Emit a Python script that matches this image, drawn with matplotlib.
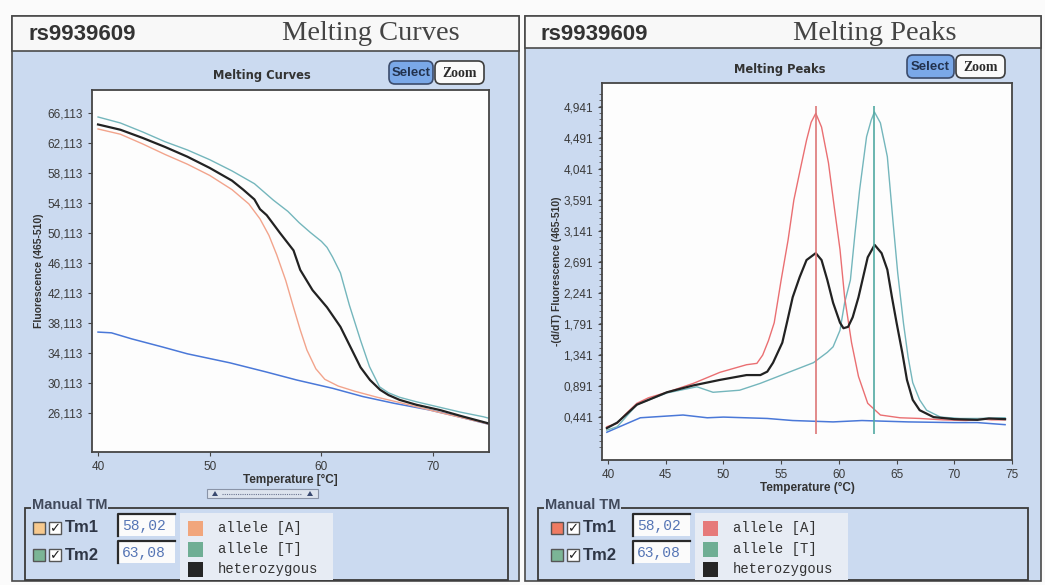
import numpy as np
import matplotlib
matplotlib.use("Agg")
import matplotlib.pyplot as plt
from matplotlib.patches import Rectangle, FancyBboxPatch, Polygon
from matplotlib.lines import Line2D
from matplotlib.transforms import Affine2D

# ---- data ----
# left: melting curves, fluorescence vs temperature
curve_T_temp = [40, 42, 44, 46, 48, 50, 52, 54, 55.7, 57, 58, 59, 60, 60.5, 61, 61.7,
                62.5, 63.5, 64.3, 65.2, 66, 67, 68.5, 70.5, 72.5, 74.5, 75]
curve_T = [65.6, 64.8, 63.6, 62.3, 61.2, 59.9, 58.4, 56.7, 54.5, 53.0, 51.5, 50.2, 49.0,
           48.2, 46.9, 44.8, 40.5, 35.8, 32.3, 29.6, 28.8, 28.2, 27.6, 26.9, 26.2, 25.6, 25.4]

curve_het_temp = [40, 42, 44, 46, 48, 50, 52, 53, 54, 54.5, 55.1, 56.3, 57.5, 58.1, 59.2,
                  60.5, 61.7, 62.6, 63.5, 64.35, 65.25, 66, 67, 68.5, 70.6, 72.5, 74.5, 75]
curve_het = [64.6, 63.9, 62.8, 61.6, 60.3, 58.8, 57.1, 55.9, 54.6, 53.3, 52.5, 50.1, 47.8,
             45.2, 42.5, 40.2, 37.6, 34.9, 32.2, 30.5, 29.2, 28.5, 27.85, 27.2, 26.5, 25.7,
             24.9, 24.7]

curve_A_temp = [40, 42, 44, 46, 48, 50, 52, 53.5, 54.5, 55.3, 56, 56.8, 57.5, 58.1, 58.7,
                59.5, 60.3, 61.5, 63, 65, 67, 70.5, 72.5, 74.5, 75]
curve_A = [64.0, 63.3, 62.0, 60.6, 59.3, 57.8, 55.9, 54.0, 52.0, 49.8, 47.2, 43.8, 40.2,
           37.2, 34.5, 32.0, 30.6, 29.7, 29.0, 28.2, 27.5, 26.2, 25.5, 24.8, 24.6]

curve_blank_temp = [40, 41.2, 43, 45.8, 48, 51.8, 55, 57.8, 61, 63.7, 66.5, 69.7, 72, 75]
curve_blank = [36.9, 36.8, 36.0, 34.9, 34.0, 32.8, 31.6, 30.5, 29.4, 28.3, 27.4, 26.5, 25.7, 24.6]

# right: melting peaks, -(d/dT) fluorescence vs temperature
peak_A_temp = [39.9, 40.8, 41.5, 42.5, 43.5, 45.1, 47.4, 49.7, 52.0, 52.9, 53.4, 53.9, 54.4,
               55.0, 55.6, 56.1, 56.7, 57.2, 57.6, 58.0, 58.5, 59.1, 59.6, 60.1, 60.5, 61.1,
               61.7, 62.5, 63.6, 65.3, 67, 69, 71, 72.5, 73.2, 74.4]
peak_A = [0.30, 0.35, 0.48, 0.64, 0.72, 0.80, 0.93, 1.09, 1.20, 1.22, 1.34, 1.55, 1.81, 2.43,
          3.01, 3.59, 4.07, 4.46, 4.72, 4.85, 4.65, 4.13, 3.49, 2.87, 2.18, 1.52, 1.03, 0.64,
          0.47, 0.43, 0.42, 0.40, 0.39, 0.41, 0.40, 0.40]

peak_T_temp = [39.9, 40.8, 42.5, 45.1, 47.7, 49.1, 51.4, 53.2, 55.5, 57.8, 59.0, 59.5, 60.1,
               60.5, 61.0, 61.4, 61.8, 62.4, 62.8, 63.08, 63.6, 64.2, 64.7, 65.1, 65.6, 66.0,
               66.4, 67.0, 67.6, 68.8, 70.5, 72, 74.4]
peak_T = [0.25, 0.30, 0.62, 0.79, 0.88, 0.80, 0.83, 0.93, 1.08, 1.23, 1.38, 1.46, 1.70, 2.10,
          2.43, 3.11, 3.74, 4.51, 4.75, 4.87, 4.71, 4.22, 3.26, 2.53, 1.80, 1.31, 0.94, 0.69,
          0.54, 0.44, 0.42, 0.42, 0.43]

peak_het_temp = [39.9, 40.8, 42.5, 45.1, 47.4, 49.7, 52.0, 53.2, 53.8, 54.3, 55.1, 55.5, 56.0,
                 56.6, 57.2, 58.0, 58.5, 59.0, 59.5, 60.1, 60.4, 60.8, 61.2, 61.7, 62.1, 62.5,
                 63.1, 63.7, 64.2, 64.6, 65.0, 65.5, 65.9, 66.4, 67.0, 68.2, 70, 72, 73, 74.4]
peak_het = [0.28, 0.36, 0.62, 0.80, 0.90, 0.98, 1.05, 1.05, 1.10, 1.23, 1.52, 1.81, 2.18, 2.47,
            2.72, 2.82, 2.72, 2.43, 2.10, 1.81, 1.73, 1.75, 1.89, 2.18, 2.47, 2.76, 2.94, 2.82,
            2.58, 2.18, 1.81, 1.37, 0.98, 0.69, 0.54, 0.44, 0.41, 0.40, 0.42, 0.41]

peak_blank_temp = [39.9, 41, 42.8, 46.5, 48.6, 50, 53.8, 56, 59.5, 62, 66, 70, 72, 74.4]
peak_blank = [0.22, 0.30, 0.43, 0.47, 0.43, 0.44, 0.42, 0.39, 0.37, 0.39, 0.37, 0.36, 0.36, 0.33]

tm_values = [58.02, 63.08]
tm_labels = ["58,02", "63,08"]
legend_labels = ["allele [A]", "allele [T]", "heterozygous"]

left_yticks = [26.113 + 4 * k for k in range(11)]
right_yticks = [0.441 + 0.45 * k for k in range(11)]

W, H = 1045, 585
PANEL = "#cbdaf0"
HEAD = "#f8f8f8"
EDGE = "#4a4a4a"

fig = plt.figure(figsize=(W / 100, H / 100), dpi=100)
fig.patch.set_facecolor("#fbfbfb")
pix = Affine2D().scale(1, -1).translate(0, H)  # pixel coords, y down


def rect(x0, y0, x1, y1, **kw):
    fig.patches.append(Rectangle((x0, y0), x1 - x0, y1 - y0, transform=pix, **kw))


def line(xs, ys, **kw):
    fig.add_artist(Line2D(xs, ys, transform=pix, **kw))


def txt(x, y, s, **kw):
    fig.text(x, y, s, transform=pix, **kw)


def comma(v, nd):
    return f"{v:.{nd}f}".replace(".", ",")


def panel(x0, x1, head_y, name, title, title_x, inner, inner_x, inner_y, btn):
    rect(x0, 16, x1, 581, facecolor=PANEL, edgecolor=EDGE, lw=1.2)
    rect(x0, 16, x1, head_y, facecolor=HEAD, edgecolor=EDGE, lw=1.2)
    txt(x0 + 16, 34, name, fontsize=16, fontweight="bold", family="Liberation Sans",
        color="#333333", va="center")
    txt(title_x, 33, title, fontsize=20.5, family="Liberation Serif",
        color="#444444", va="center", ha="center")
    txt(inner_x, inner_y, inner, fontsize=8.3, fontweight="bold", family="DejaVu Sans",
        color="#333333", va="center", ha="center")
    sx0, sx1, zx1, by0, by1 = btn
    fig.patches.append(FancyBboxPatch((sx0, by0), sx1 - sx0, by1 - by0, transform=pix,
                                      boxstyle="round,pad=0,rounding_size=6",
                                      facecolor="#7aa8e8", edgecolor="#3c4c6c", lw=1.2))
    fig.patches.append(FancyBboxPatch((sx1 + 2, by0), zx1 - sx1 - 2, by1 - by0, transform=pix,
                                      boxstyle="round,pad=0,rounding_size=6",
                                      facecolor="#fafafa", edgecolor="#3c3c3c", lw=1.2))
    txt((sx0 + sx1) / 2, (by0 + by1) / 2 + 1, "Select", fontsize=9.5, fontweight="bold",
        family="Liberation Sans", color="#22324e", ha="center", va="center")
    txt((sx1 + zx1) / 2 + 1, (by0 + by1) / 2 + 1, "Zoom", fontsize=10, fontweight="bold",
        family="Liberation Serif", color="#2a2a2a", ha="center", va="center")


def manual_tm(fx0, fx1, sq_x, box_x, leg_x, colors, tm_cols):
    rect(fx0, 508, fx1, 580, facecolor="none", edgecolor="#3a3a3a", lw=1.3)
    txt(fx0 + 7, 505, "Manual TM", fontsize=10.5, fontweight="bold", family="Liberation Sans",
        color="#414a5c", va="center",
        bbox=dict(facecolor=PANEL, edgecolor="none", pad=0.5))
    rows = [528, 555]
    for i, yc in enumerate(rows):
        rect(sq_x, yc - 6, sq_x + 12, yc + 6, facecolor=tm_cols[i], edgecolor="#555555", lw=1)
        rect(sq_x + 16, yc - 6, sq_x + 28, yc + 6, facecolor="#ffffff", edgecolor="#555555", lw=1)
        txt(sq_x + 22, yc + 0.5, "\u2713", fontsize=9.5, fontweight="bold", color="#222222",
            ha="center", va="center", family="DejaVu Sans")
        txt(sq_x + 32, yc, f"Tm{i + 1}", fontsize=12, fontweight="bold",
            family="Liberation Sans", color="#2e3646", va="center")
        rect(box_x, yc - 14, box_x + 57, yc + 8, facecolor="#fbfbfb", edgecolor="none")
        line([box_x, box_x, box_x + 57], [yc + 8, yc - 14, yc - 14], color="#2a2a2a", lw=1.6)
        txt(box_x + 4, yc - 2, tm_labels[i], fontsize=10.5, family="Liberation Mono",
            color="#5575b5", va="center")
    rect(leg_x - 8, 513, leg_x + 145, 580, facecolor="#e7ecf4", edgecolor="none")
    for i, yc in enumerate([528, 549, 569]):
        rect(leg_x, yc - 7.5, leg_x + 15, yc + 7.5, facecolor=colors[i], edgecolor="none")
        txt(leg_x + 30, yc, legend_labels[i], fontsize=10, family="Liberation Mono",
            color="#333333", va="center")


def style_axes(ax):
    ax.set_zorder(5)
    ax.set_facecolor("#fdfdfd")
    for s in ax.spines.values():
        s.set_color("#454545")
        s.set_linewidth(1.3)
    ax.tick_params(colors="#454545", labelcolor="#3a3a3a", labelsize=8.5, length=3,
                   direction="out")
    for lab in ax.get_xticklabels() + ax.get_yticklabels():
        lab.set_family("Liberation Sans")


# ---- panels ----
panel(12, 519, 51, "rs9939609", "Melting Curves", 371, "Melting Curves", 262, 76,
      (389, 433, 484, 61, 84))
panel(525, 1041, 48, "rs9939609", "Melting Peaks", 875, "Melting Peaks", 780, 70,
      (907, 954, 1005, 55, 78))

# ---- left axes: melting curves ----
axL = fig.add_axes([92 / W, 1 - 452 / H, 397 / W, 362 / H])
axL.plot(curve_blank_temp, curve_blank, color="#4a78d8", lw=1.1)
axL.plot(curve_A_temp, curve_A, color="#f2a48c", lw=1.0)
axL.plot(curve_T_temp, curve_T, color="#74b6bc", lw=1.0)
axL.plot(curve_het_temp, curve_het, color="#222222", lw=1.6)
axL.set_xlim(39.46, 75.0)
axL.set_ylim(20.9, 69.2)
axL.set_xticks([40, 50, 60, 70])
axL.set_yticks(left_yticks)
axL.set_yticklabels([comma(v, 3) for v in left_yticks])
style_axes(axL)
axL.set_xlabel("Temperature [\u00b0C]", fontsize=8.5, fontweight="bold",
               family="Liberation Sans", color="#333333", labelpad=1)
axL.set_ylabel("Fluorescence (465-510)", fontsize=7.5, fontweight="bold",
               family="Liberation Sans", color="#333333")
axL.yaxis.set_label_coords(-0.121, 0.5)

# small scrollbar under the left chart
rect(207, 489, 318, 498, facecolor="#dde4ee", edgecolor="#8a94a8", lw=0.8)
line([222, 302], [493.5, 493.5], color="#6a7490", lw=0.8, ls=(0, (1, 1)))
for xc in (215, 310):
    fig.patches.append(Polygon([[xc - 3, 496], [xc + 3, 496], [xc, 491]], closed=True,
                               transform=pix, facecolor="#3a4a70", edgecolor="none"))

# ---- right axes: melting peaks ----
axR = fig.add_axes([602 / W, 1 - 460 / H, 410 / W, 377 / H])
axR.plot(peak_blank_temp, peak_blank, color="#4a78d8", lw=1.1)
axR.plot(peak_T_temp, peak_T, color="#74b6bc", lw=1.0)
axR.plot(peak_A_temp, peak_A, color="#ea6f72", lw=1.0)
axR.plot(peak_het_temp, peak_het, color="#222222", lw=1.6)
axR.vlines(tm_values[0], 0.20, 4.96, color="#dd7777", lw=1.2)
axR.vlines(tm_values[1], 0.20, 4.96, color="#52aaa2", lw=1.2)
axR.set_xlim(39.48, 75.0)
axR.set_ylim(-0.183, 5.29)
axR.set_xticks(list(range(40, 76, 5)))
axR.set_yticks(right_yticks)
axR.set_yticklabels([comma(v, 3) for v in right_yticks])
axR.set_yticks(np.arange(0.0, 5.2, 0.09), minor=True)
axR.tick_params(axis="y", which="minor", length=2, color="#555555")
style_axes(axR)
axR.set_xlabel("Temperature (\u00b0C)", fontsize=8.5, fontweight="bold",
               family="Liberation Sans", color="#333333", labelpad=1)
axR.set_ylabel("-(d/dT) Fluorescence (465-510)", fontsize=7.5, fontweight="bold",
               family="Liberation Sans", color="#333333")
axR.yaxis.set_label_coords(-0.098, 0.5)

# ---- Manual TM boxes ----
manual_tm(25, 508, 33, 118, 188, ["#f1a67c", "#6fae94", "#262626"], ["#f7c98e", "#7bb596"])
manual_tm(538, 1028, 551, 633, 703, ["#e67a7a", "#6fae94", "#262626"], ["#ef7b62", "#7bb596"])

fig.savefig("out.png", dpi=100)
